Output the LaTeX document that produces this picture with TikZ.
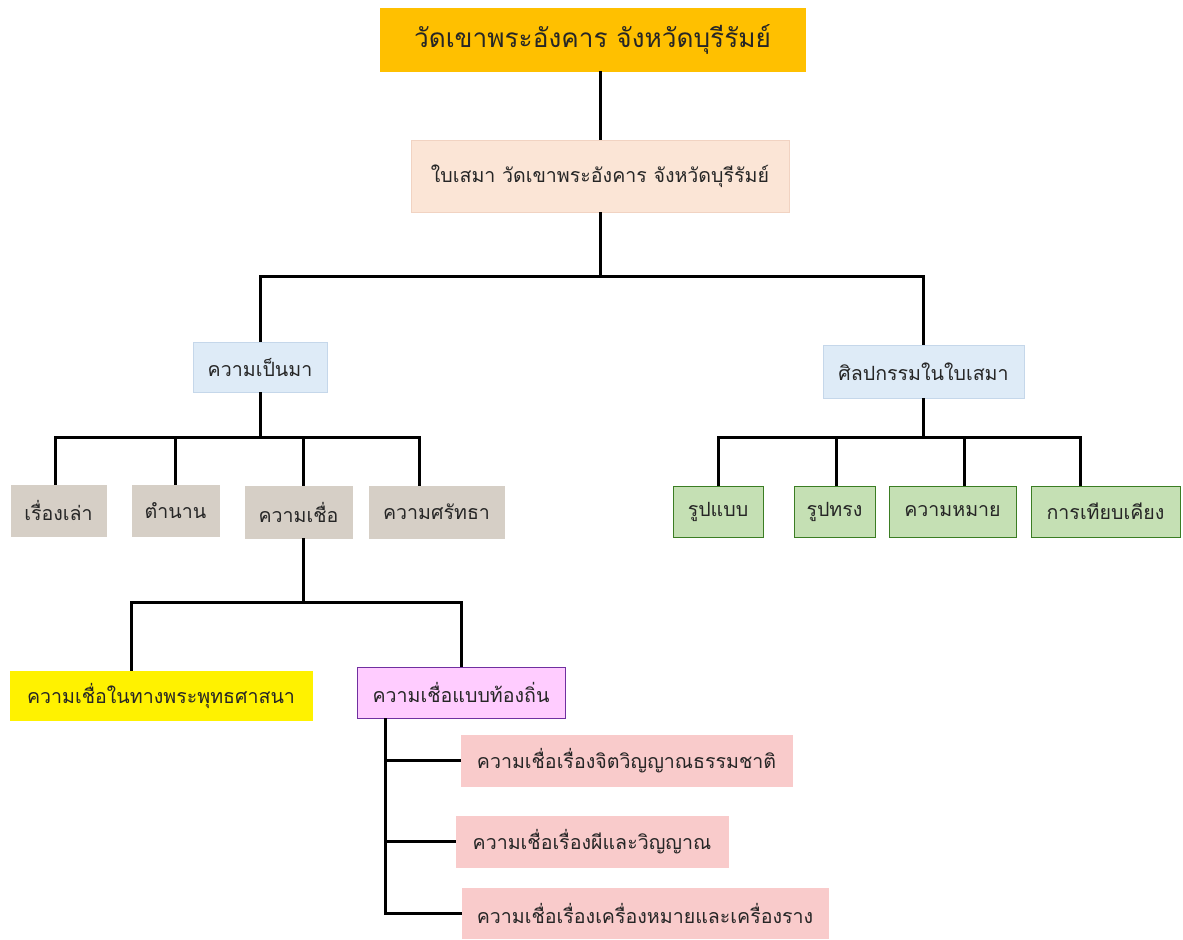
\documentclass[tikz,border=0pt]{standalone}
\usepackage{fontspec}
\newfontfamily\thaifont[Script=Thai]{Loma}

\definecolor{watorange}{HTML}{FFC000}
\definecolor{semafill}{HTML}{FBE5D6}
\definecolor{semaline}{HTML}{F1D3C2}
\definecolor{bluefill}{HTML}{DEEBF7}
\definecolor{blueline}{HTML}{C5D7EA}
\definecolor{tanfill}{HTML}{D6CFC6}
\definecolor{greenfill}{HTML}{C5E0B4}
\definecolor{greenline}{HTML}{3B7D23}
\definecolor{pinkfill}{HTML}{FFCCFF}
\definecolor{purpleline}{HTML}{7030A0}
\definecolor{rosefill}{HTML}{F9CBCB}

\tikzset{
  box/.style={draw, inner sep=0pt, text=black!85,
    font=\thaifont\fontsize{9.8}{12}\selectfont},
  link/.style={line width=1.5pt},
}

\begin{document}
\begin{tikzpicture}[x=0.5pt, y=-0.5pt]

\fill[white] (0,0) rectangle (1183,940);
\useasboundingbox (0,0) rectangle (1183,940);

% Temple title
\path
(592.5,39.5) node [box, fill=watorange, draw=watorange, minimum width=212.5pt, minimum height=31.5pt,
  font=\thaifont\fontsize{13.1}{16}\selectfont] (wat) {วัดเขาพระอังคาร จังหวัดบุรีรัมย์};

\path
(600,176) node [box, fill=semafill, draw=semaline, minimum width=189pt, minimum height=36pt]
  (sema) {ใบเสมา วัดเขาพระอังคาร จังหวัดบุรีรัมย์};

\draw[link] (sema.north) -- (sema.north |- wat.south);


% Two main branches
\path
(260,367) node [box, fill=bluefill, draw=blueline, minimum width=67pt, minimum height=25pt]
  (history) {ความเป็นมา};

\path
(923.5,371.5) node [box, fill=bluefill, draw=blueline, minimum width=100.5pt, minimum height=26.5pt]
  (art) {ศิลปกรรมในใบเสมา};

\coordinate (split) at (600,277);
\draw[link] (sema.south) -- (split);
\draw[link] (history.north) |- (split) -| (art.north);


% History branch
\path
(58.5,510.5) node [box, fill=tanfill, draw=tanfill, minimum width=47.5pt, minimum height=25.5pt] (story) {เรื่องเล่า};
\path
(175.5,510.5) node [box, fill=tanfill, draw=tanfill, minimum width=43.5pt, minimum height=25.5pt] (legend) {ตำนาน};
\path
(298.5,512) node [box, fill=tanfill, draw=tanfill, minimum width=53.5pt, minimum height=26pt] (belief) {ความเชื่อ};
\path
(436.5,512) node [box, fill=tanfill, draw=tanfill, minimum width=67.5pt, minimum height=26pt] (faith) {ความศรัทธา};

\coordinate (histbus) at (260,438);
\draw[link] (history.south) -- (histbus);
\draw[link] ([xshift=-1.75pt]story.north) |- (histbus) -| ([xshift=-8.75pt]faith.north);
\draw[link] (legend.north) -- (legend.north |- histbus);
\draw[link] ([xshift=2.25pt]belief.north) -- ([xshift=2.25pt]belief.north |- histbus);


% Art branch
\path
(718,511.5) node [box, fill=greenfill, draw=greenline, minimum width=45pt, minimum height=25.5pt] (form) {รูปแบบ};
\path
(834.5,511.5) node [box, fill=greenfill, draw=greenline, minimum width=40.5pt, minimum height=25.5pt] (shape) {รูปทรง};
\path
(952.5,511.5) node [box, fill=greenfill, draw=greenline, minimum width=63.5pt, minimum height=25.5pt] (meaning) {ความหมาย};
\path
(1105.5,511.5) node [box, fill=greenfill, draw=greenline, minimum width=74.5pt, minimum height=25.5pt] (compare) {การเทียบเคียง};

\coordinate (artbus) at (923.5,438);
\draw[link] (art.south) -- (artbus);
\draw[link] (form.north) |- (artbus) -| ([xshift=-12.75pt]compare.north);
\draw[link] ([xshift=1pt]shape.north) -- ([xshift=1pt]shape.north |- artbus);
\draw[link] ([xshift=5.75pt]meaning.north) -- ([xshift=5.75pt]meaning.north |- artbus);


% Kinds of belief
\path
(161,695.5) node [box, fill=yellow, draw=yellow, minimum width=151pt, minimum height=24.5pt] (buddhist) {ความเชื่อในทางพระพุทธศาสนา};
\path
(461,692.5) node [box, fill=pinkfill, draw=purpleline, minimum width=104pt, minimum height=25.5pt] (local) {ความเชื่อแบบท้องถิ่น};

\coordinate (beliefbus) at (303,603);
\draw[link] ([xshift=2.25pt]belief.south) -- (beliefbus);
\draw[link] ([xshift=-15pt]buddhist.north) |- (beliefbus) -| (local.north);


% Local beliefs
\path
(626.5,760.5) node [box, fill=rosefill, draw=rosefill, minimum width=165.5pt, minimum height=25.5pt] (spirit) {ความเชื่อเรื่องจิตวิญญาณธรรมชาติ};
\path
(592,841.5) node [box, fill=rosefill, draw=rosefill, minimum width=136pt, minimum height=25.5pt] (ghost) {ความเชื่อเรื่องผีและวิญญาณ};
\path
(645,913) node [box, fill=rosefill, draw=rosefill, minimum width=183pt, minimum height=25pt] (amulet) {ความเชื่อเรื่องเครื่องหมายและเครื่องราง};

\coordinate (trunk) at (385,718);
\draw[link] (trunk) |- (amulet.west);
\draw[link] (spirit.west) -- (spirit.west -| trunk);
\draw[link] (ghost.west) -- (ghost.west -| trunk);

\end{tikzpicture}
\end{document}
